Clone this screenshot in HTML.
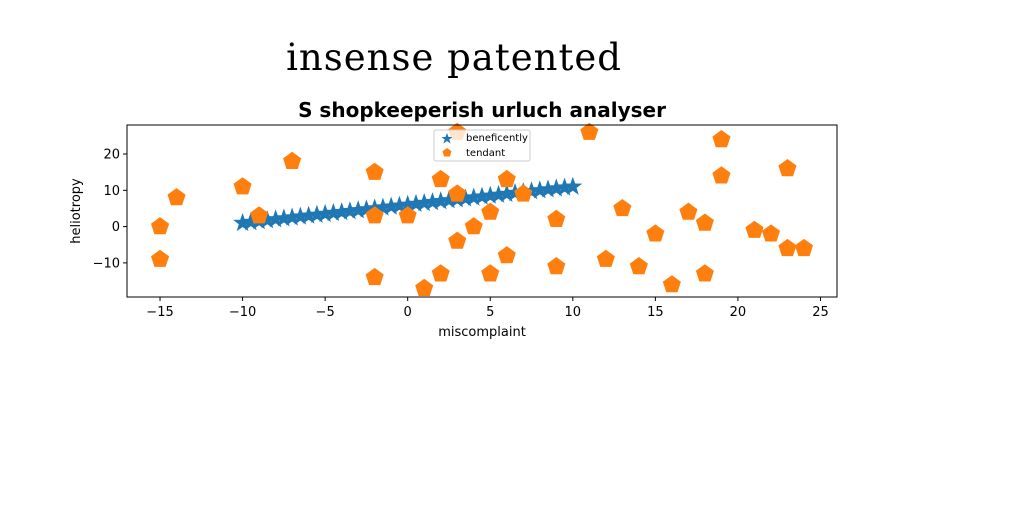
<!DOCTYPE html>
<html><head><meta charset="utf-8"><style>
body{margin:0;background:#fff;width:1024px;height:512px;overflow:hidden;font-family:"DejaVu Sans","Liberation Sans",sans-serif}
</style></head><body>
<svg id="chart" width="1024" height="512">
<text x="454" y="70" font-family="DejaVu Serif,Liberation Serif,serif" font-size="37" letter-spacing="1" text-anchor="middle">insense patented</text>
<text x="482" y="117" font-family="Comic Sans MS,DejaVu Sans,sans-serif" font-weight="bold" font-size="20" text-anchor="middle">S shopkeeperish urluch analyser</text>
<g id="marks"></g>
<rect x="127" y="125" width="710" height="172" fill="none" stroke="#000" stroke-width="1"/>
<g id="axes"></g>
<text x="482" y="336" font-size="13" text-anchor="middle">miscomplaint</text>
<text x="80" y="211" font-size="13" text-anchor="middle" transform="rotate(-90 80 211)">heliotropy</text>
<g>
<rect x="434" y="130" width="96" height="31" rx="2" fill="#fff" fill-opacity="0.8" stroke="#ccc"/>
<polygon points="447,133 448.5,137 452.5,137 449.3,139.5 450.5,143.5 447,141 443.5,143.5 444.7,139.5 441.5,137 445.5,137" fill="#1f77b4"/>
<text x="466" y="141" font-size="10">beneficently</text>
<polygon points="447,148 451.5,151.3 449.8,156.5 444.2,156.5 442.5,151.3" fill="#ff7f0e"/>
<text x="466" y="156" font-size="10">tendant</text>
</g>
</svg>
<script>
const starX=[-10,-9.5,-9,-8.5,-8,-7.5,-7,-6.5,-6,-5.5,-5,-4.5,-4,-3.5,-3,-2.5,-2,-1.5,-1,-0.5,0,0.5,1,1.5,2,2.5,3,3.5,4,4.5,5,5.5,6,6.5,7,7.5,8,8.5,9,9.5,10];
const starY=[1,1.25,1.5,1.75,2,2.25,2.5,2.75,3,3.25,3.5,3.75,4,4.25,4.5,4.75,5,5.25,5.5,5.75,6,6.25,6.5,6.75,7,7.25,7.5,7.75,8,8.25,8.5,8.75,9,9.25,9.5,9.75,10,10.25,10.5,10.75,11];
const pentX=[-15,-15,-14,-10,-9,-7,-2,-2,-2,0,1,2,2,3,3,3,4,5,5,6,6,7,9,9,11,12,13,14,15,16,17,18,18,19,19,21,22,23,23,24];
const pentY=[0,-9,8,11,3,18,15,3,-14,3,-17,13,-13,9,-4,26,0,4,-13,13,-8,9,2,-11,26,-9,5,-11,-2,-16,4,1,-13,24,14,-1,-2,16,-6,-6];
const xTicks=[-15,-10,-5,0,5,10,15,20,25];
const yTicks=[-10,0,10,20];
const X0=127,X1=837,Y0=297,Y1=125,xmin=-17,xmax=26,ymin=-19.4,ymax=28;
const sx=v=>X0+(v-xmin)/(xmax-xmin)*(X1-X0);
const sy=v=>Y0-(v-ymin)/(ymax-ymin)*(Y0-Y1);
const NS='http://www.w3.org/2000/svg';
const marks=document.getElementById('marks'),axes=document.getElementById('axes');
function poly(cx,cy,r,n,inner){let p=[];const k=inner?n*2:n;for(let i=0;i<k;i++){const a=-Math.PI/2+i*2*Math.PI/k;const rr=inner&&i%2?r*inner:r;p.push((cx+rr*Math.cos(a)).toFixed(1)+','+(cy+rr*Math.sin(a)).toFixed(1));}return p.join(' ');}
starX.forEach((x,i)=>{const e=document.createElementNS(NS,'polygon');e.setAttribute('points',poly(sx(x),sy(starY[i]),10,5,0.4));e.setAttribute('fill','#1f77b4');


marks.appendChild(e);});
pentX.forEach((x,i)=>{const e=document.createElementNS(NS,'polygon');e.setAttribute('points',poly(sx(x),sy(pentY[i]),9.5,5));e.setAttribute('fill','#ff7f0e');


marks.appendChild(e);});
xTicks.forEach(t=>{const x=sx(t);const l=document.createElementNS(NS,'line');l.setAttribute('x1',x);l.setAttribute('x2',x);l.setAttribute('y1',Y0);l.setAttribute('y2',Y0+4);l.setAttribute('stroke','#000');


axes.appendChild(l);const tx=document.createElementNS(NS,'text');tx.setAttribute('x',x);tx.setAttribute('y',Y0+19);tx.setAttribute('font-size','13');tx.setAttribute('text-anchor','middle');tx.textContent=t<0?'\u2212'+(-t):t;


axes.appendChild(tx);});
yTicks.forEach(t=>{const y=sy(t);const l=document.createElementNS(NS,'line');l.setAttribute('x1',X0-4);l.setAttribute('x2',X0);l.setAttribute('y1',y);l.setAttribute('y2',y);l.setAttribute('stroke','#000');


axes.appendChild(l);const tx=document.createElementNS(NS,'text');tx.setAttribute('x',X0-7);tx.setAttribute('y',y+4.5);tx.setAttribute('font-size','13');tx.setAttribute('text-anchor','end');tx.textContent=t<0?'\u2212'+(-t):t;


axes.appendChild(tx);});
</script>
</body></html>
